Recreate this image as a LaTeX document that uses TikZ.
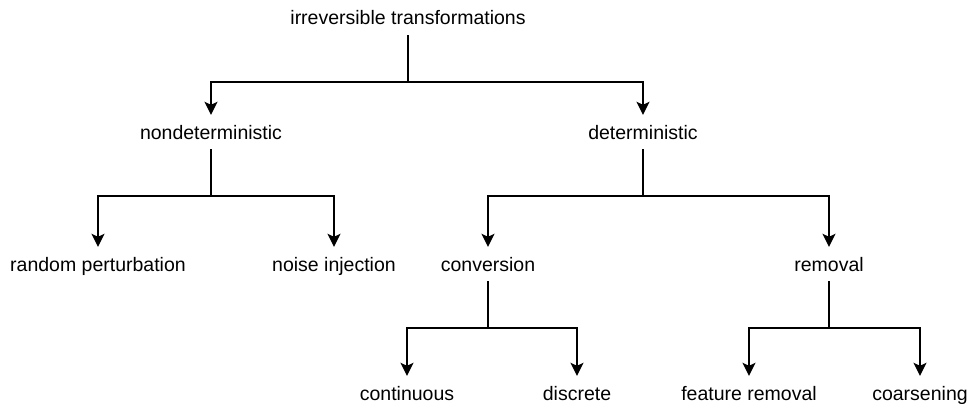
\documentclass[tikz,border=0pt]{standalone}
\usepackage{fontspec}
\setmainfont{Liberation Sans}
\usepackage{tikz}
\usetikzlibrary{arrows.meta}

\tikzset{
    lbl/.style={inner xsep=2pt, inner ysep=10pt, text height=14pt, text depth=0pt,
        font=\fontsize{19.5}{23}\selectfont},
    arr/.style={line width=1.5pt, -{Stealth[length=13pt,width=13pt,inset=3pt]}}
}

\begin{document}
\begin{tikzpicture}[x=1pt,y=-1pt]
        \useasboundingbox (0,0) rectangle (969,404);
        % levels
        \node[lbl, inner ysep=10pt] (root) at (408,18) {irreversible transformations};
        \node[lbl] (nondet) at (211,132) {nondeterministic};
        \node[lbl] (det) at (643,132) {deterministic};
        \node[lbl] (randpert) at (98,264) {random perturbation};
        \node[lbl] (noise) at (334,264) {noise injection};
        \node[lbl] (conv) at (488,264) {conversion};
        \node[lbl] (removal) at (829,264) {removal};
        \node[lbl] (cont) at (407,393) {continuous};
        \node[lbl] (disc) at (577,393) {discrete};
        \node[lbl] (featrem) at (749,393) {feature removal};
        \node[lbl] (coarse) at (920,393) {coarsening};
        % branches
        \foreach \p/\c in {root/nondet, root/det, nondet/randpert, nondet/noise,
                det/conv, det/removal, conv/cont, conv/disc, removal/featrem, removal/coarse}
            \draw[arr] (\p.south) -- ++(0,47) -| (\c.north);
    \end{tikzpicture}
\end{document}
